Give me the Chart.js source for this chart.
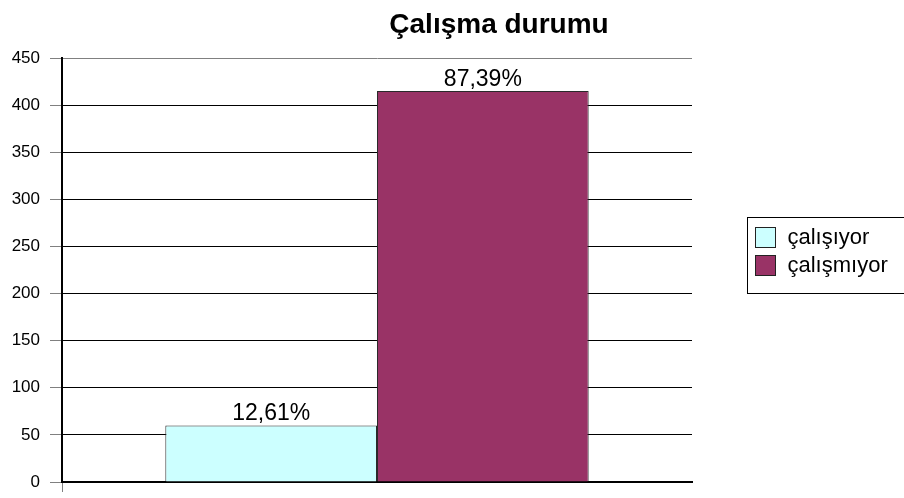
<!DOCTYPE html>
<html>
<head>
<meta charset="utf-8">
<script src="https://cdn.jsdelivr.net/npm/chart.js@4/dist/chart.umd.min.js"></script>
<style>
  html, body { margin: 0; padding: 0; background: #fff; }
  #wrap { width: 904px; height: 498px; }
</style>
</head>
<body>
<div id="wrap"><canvas id="chart" width="904" height="498"></canvas></div>
<script>
const chartTitle = 'Çalışma durumu';
const categories = [''];
const seriesNames = ['çalışıyor', 'çalışmıyor'];
const seriesValues = [[60], [415]];
const seriesLabels = [['12,61%'], ['87,39%']];
const seriesColors = ['#CCFFFF', '#993366'];
const yTicks = [0, 50, 100, 150, 200, 250, 300, 350, 400, 450];

const FONT = '"Liberation Sans", Arial, sans-serif';

// 棒の上にパーセント表示
const valueLabelPlugin = {
    id: 'valueLabels',
    afterDatasetsDraw(chart) {
        const ctx = chart.ctx;
        ctx.save();
        ctx.font = '23px ' + FONT;
        ctx.fillStyle = '#000';
        ctx.textAlign = 'center';
        ctx.textBaseline = 'alphabetic';
        chart.data.datasets.forEach((ds, i) => {
            chart.getDatasetMeta(i).data.forEach((bar, j) => {
                ctx.fillText(seriesLabels[i][j], bar.x, bar.y - 5);
            });
        });
        ctx.restore();
    }
};

// タイトルと凡例は手書き
const decorPlugin = {
    id: 'decor',
    afterDraw(chart) {
        const ctx = chart.ctx;
        ctx.save();
        ctx.font = 'bold 28px ' + FONT;
        ctx.fillStyle = '#000';
        ctx.textAlign = 'center';
        ctx.textBaseline = 'alphabetic';
        ctx.fillText(chartTitle, 499, 33);

        // legend (右端ははみ出している)
        const bx = 747.5, by = 217.5, bw = 170, bh = 76;
        ctx.strokeStyle = '#000';
        ctx.lineWidth = 1;
        ctx.strokeRect(bx, by, bw, bh);
        ctx.font = '22px ' + FONT;
        ctx.textAlign = 'left';
        ctx.textBaseline = 'middle';
        chart.data.datasets.forEach((ds, i) => {
            const y = by + 10 + i * 28;
            ctx.fillStyle = ds.backgroundColor;
            ctx.fillRect(bx + 8, y, 20, 20);
            ctx.strokeStyle = '#222';
            ctx.strokeRect(bx + 8, y, 20, 20);
            ctx.fillStyle = '#000';
            ctx.fillText(ds.label, bx + 40, y + 10);
        });
        ctx.restore();
    }
};

new Chart(document.getElementById('chart').getContext('2d'), {
    type: 'bar',
    data: {
        labels: categories,
        datasets: seriesNames.map((name, i) => ({
            label: name,
            data: seriesValues[i],
            backgroundColor: seriesColors[i],
            borderColor: '#2a2a2a',
            borderWidth: 1,
            categoryPercentage: 0.672,
            barPercentage: 1.0
        }))
    },
    options: {
        responsive: false,
        animation: false,
        devicePixelRatio: 1,
        layout: { padding: { top: 58, right: 212, bottom: 6, left: 0 } },
        plugins: {
            legend: { display: false },
            tooltip: { enabled: false },
            title: { display: false }
        },
        scales: {
            x: {
                afterFit(scale) { scale.height = 10; },
                ticks: { display: false },
                grid: {
                    drawOnChartArea: false,
                    tickLength: 10,
                    color: c => c.index === 0 ? '#808080' : 'transparent'
                },
                border: { color: '#000', width: 2 }
            },
            y: {
                min: 0,
                max: 450,
                afterFit(scale) { scale.width = 62; scale.paddingBottom = 0; scale.paddingTop = 0; },
                afterBuildTicks(scale) { scale.ticks = yTicks.map(v => ({ value: v })); },
                ticks: {
                    color: '#000',
                    padding: 10,
                    font: { family: FONT, size: 17, lineHeight: 0.5 }
                },
                grid: {
                    color: c => c.tick && c.tick.value === 450 ? '#808080' : '#000',
                    lineWidth: 1,
                    tickLength: 12,
                    tickColor: '#808080'
                },
                border: { color: '#000', width: 2 }
            }
        }
    },
    plugins: [valueLabelPlugin, decorPlugin]
});
</script>
</body>
</html>
